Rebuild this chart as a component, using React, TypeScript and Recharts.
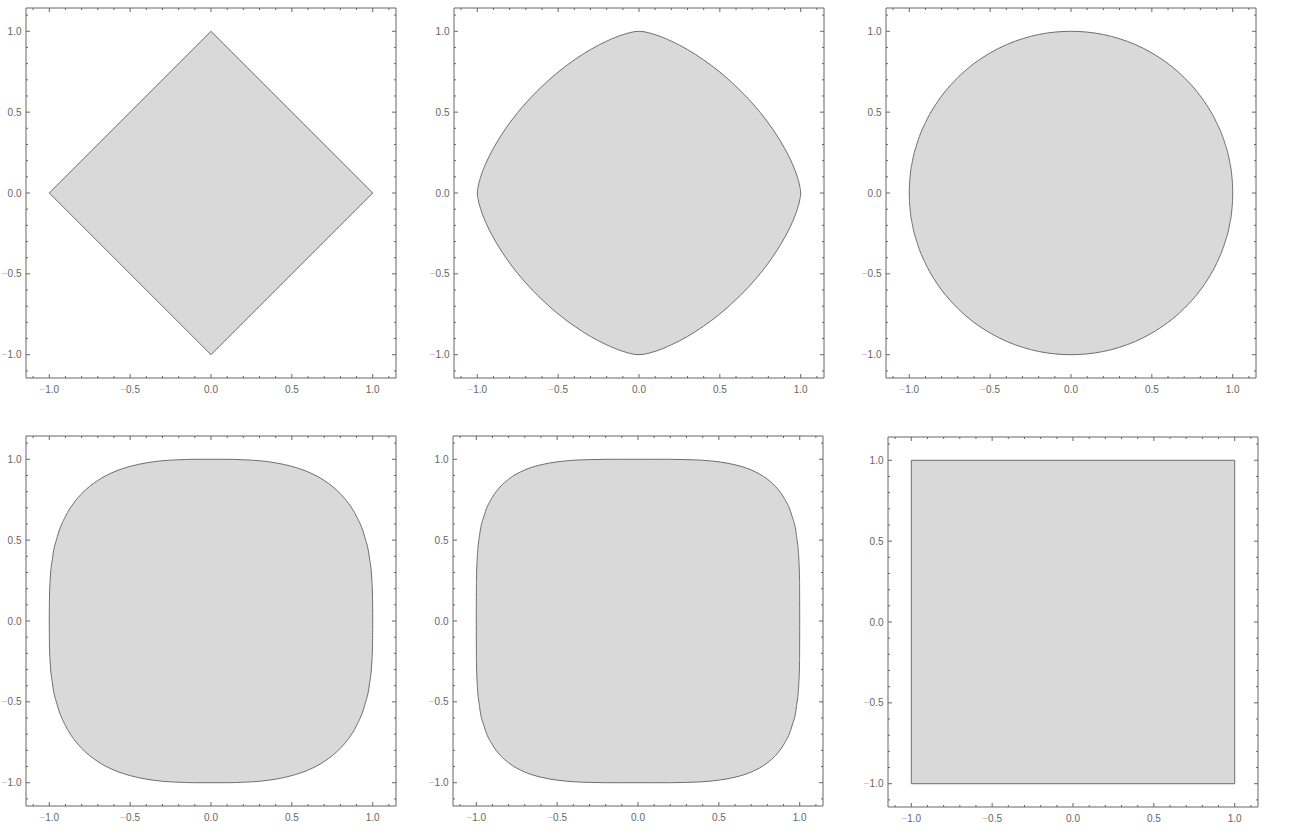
import React from "react";
import { ComposedChart, Area, XAxis, YAxis, ReferenceArea } from "recharts";

// sample positions along x used for the curved outlines
const curveX = [
  -1, -0.999, -0.995, -0.98, -0.95, -0.9, -0.85, -0.8, -0.7, -0.6, -0.5, -0.4, -0.3, -0.2, -0.1,
  0, 0.1, 0.2, 0.3, 0.4, 0.5, 0.6, 0.7, 0.8, 0.85, 0.9, 0.95, 0.98, 0.995, 0.999, 1,
];

// upper edge of each region (lower edge is the mirror)
const p15Top = [
  0, 0.013, 0.038, 0.096, 0.176, 0.277, 0.36, 0.433, 0.556, 0.659, 0.748, 0.823, 0.887, 0.939, 0.979,
  1, 0.979, 0.939, 0.887, 0.823, 0.748, 0.659, 0.556, 0.433, 0.36, 0.277, 0.176, 0.096, 0.038, 0.013, 0,
];
const p2Top = [
  0, 0.045, 0.1, 0.199, 0.312, 0.436, 0.527, 0.6, 0.714, 0.8, 0.866, 0.917, 0.954, 0.98, 0.995,
  1, 0.995, 0.98, 0.954, 0.917, 0.866, 0.8, 0.714, 0.6, 0.527, 0.436, 0.312, 0.199, 0.1, 0.045, 0,
];
const p3Top = [
  0, 0.144, 0.246, 0.389, 0.522, 0.647, 0.728, 0.787, 0.869, 0.922, 0.956, 0.978, 0.991, 0.997, 1,
  1, 1, 0.997, 0.991, 0.978, 0.956, 0.922, 0.869, 0.787, 0.728, 0.647, 0.522, 0.389, 0.246, 0.144, 0,
];
const p4Top = [
  0, 0.251, 0.376, 0.528, 0.656, 0.766, 0.832, 0.877, 0.934, 0.966, 0.984, 0.994, 0.998, 1, 1,
  1, 1, 1, 0.998, 0.994, 0.984, 0.966, 0.934, 0.877, 0.832, 0.766, 0.656, 0.528, 0.376, 0.251, 0,
];

const diamondX = [-1, 0, 1];
const diamondTop = [0, 1, 0];

const squareX = [-1, 1];
const squareTop = [1, 1];

const minorTicks = [
  -1.1, -1, -0.9, -0.8, -0.7, -0.6, -0.5, -0.4, -0.3, -0.2, -0.1,
  0, 0.1, 0.2, 0.3, 0.4, 0.5, 0.6, 0.7, 0.8, 0.9, 1, 1.1,
];
const majorTicks = [-1, -0.5, 0, 0.5, 1];

const DOMAIN: [number, number] = [-1.144, 1.144];
const PLOT = 370; // plot area is square, PLOT x PLOT px
const FRAME = "#666666";
const FILL = "#d9d9d9";
const EDGE = "#6e6e6e";
const FONT = "'Liberation Sans', Arial, sans-serif";

const toRows = (xs: number[], tops: number[]) =>
  xs.map((x, i) => ({ x, range: [-tops[i], tops[i]] }));

// one tick draws the mark on its own side and on the opposite frame side
function FrameTick(props: any) {
  const { x, y, payload, side } = props;
  const v = payload.value;
  const major = majorTicks.some((m) => Math.abs(m - v) < 1e-6);
  const len = major ? 4 : 2;
  const bottom = side === "bottom";

  const lines = bottom ? (
    <>
      <line x1={x} y1={y} x2={x} y2={y - len} stroke={FRAME} />
      <line x1={x} y1={y - PLOT} x2={x} y2={y - PLOT + len} stroke={FRAME} />
    </>
  ) : (
    <>
      <line x1={x} y1={y} x2={x + len} y2={y} stroke={FRAME} />
      <line x1={x + PLOT} y1={y} x2={x + PLOT - len} y2={y} stroke={FRAME} />
    </>
  );

  let label = null;
  if (major) {
    const txt = Math.abs(v).toFixed(1);
    label = (
      <text
        x={bottom ? x : x - 4.5}
        y={bottom ? y + 14.5 : y + 3.6}
        textAnchor={bottom ? "middle" : "end"}
        fontSize={10}
        fontFamily={FONT}
        fill={FRAME}
      >
        {v < 0 && <tspan fill="#bdbdbd">−</tspan>}
        {txt}
      </text>
    );
  }
  return (
    <g>
      {lines}
      {label}
    </g>
  );
}

interface PanelProps {
  left: number;
  top: number;
  data: { x: number; range: number[] }[];
  curve: "linear" | "monotone";
  square?: boolean;
}

function Panel({ left, top, data, curve, square }: PanelProps) {
  const axisCommon = {
    type: "number" as const,
    domain: DOMAIN,
    ticks: minorTicks,
    interval: 0 as const,
    tickSize: 0,
    tickMargin: 0,
    tickLine: false,
    allowDataOverflow: true,
    axisLine: false,
  };
  return (
    <div style={{ position: "absolute", left, top }}>
      <ComposedChart
        width={PLOT + 30}
        height={PLOT + 25}
        data={data}
        margin={{ top: 5, right: 5, bottom: 0, left: 0 }}
      >
        <XAxis dataKey="x" height={20} tick={<FrameTick side="bottom" />} {...axisCommon} />
        <YAxis width={25} tick={<FrameTick side="left" />} {...axisCommon} />
        <ReferenceArea
          x1={DOMAIN[0]}
          x2={DOMAIN[1]}
          y1={DOMAIN[0]}
          y2={DOMAIN[1]}
          fill="none"
          stroke={FRAME}
          strokeWidth={1}
          ifOverflow="visible"
        />
        <Area
          dataKey="range"
          type={curve}
          fill={FILL}
          fillOpacity={1}
          stroke={square ? "none" : EDGE}
          strokeWidth={1}
          dot={false}
          activeDot={false}
          isAnimationActive={false}
        />
        {square && (
          <ReferenceArea
            x1={squareX[0]}
            x2={squareX[1]}
            y1={-squareTop[0]}
            y2={squareTop[1]}
            fill="none"
            stroke={EDGE}
            strokeWidth={1}
          />
        )}
      </ComposedChart>
    </div>
  );
}

export default function App() {
  return (
    <div
      style={{
        position: "absolute",
        left: 0,
        top: 0,
        width: 1292,
        height: 834,
        background: "#fff",
        overflow: "hidden",
      }}
    >
      <Panel left={0.5} top={2.5} data={toRows(diamondX, diamondTop)} curve="linear" />
      <Panel left={428.5} top={2.5} data={toRows(curveX, p15Top)} curve="monotone" />
      <Panel left={860.5} top={2.5} data={toRows(curveX, p2Top)} curve="monotone" />
      <Panel left={0.5} top={430.5} data={toRows(curveX, p3Top)} curve="monotone" />
      <Panel left={427.5} top={430.5} data={toRows(curveX, p4Top)} curve="monotone" />
      <Panel left={862.5} top={431.5} data={toRows(squareX, squareTop)} curve="linear" square />
    </div>
  );
}
